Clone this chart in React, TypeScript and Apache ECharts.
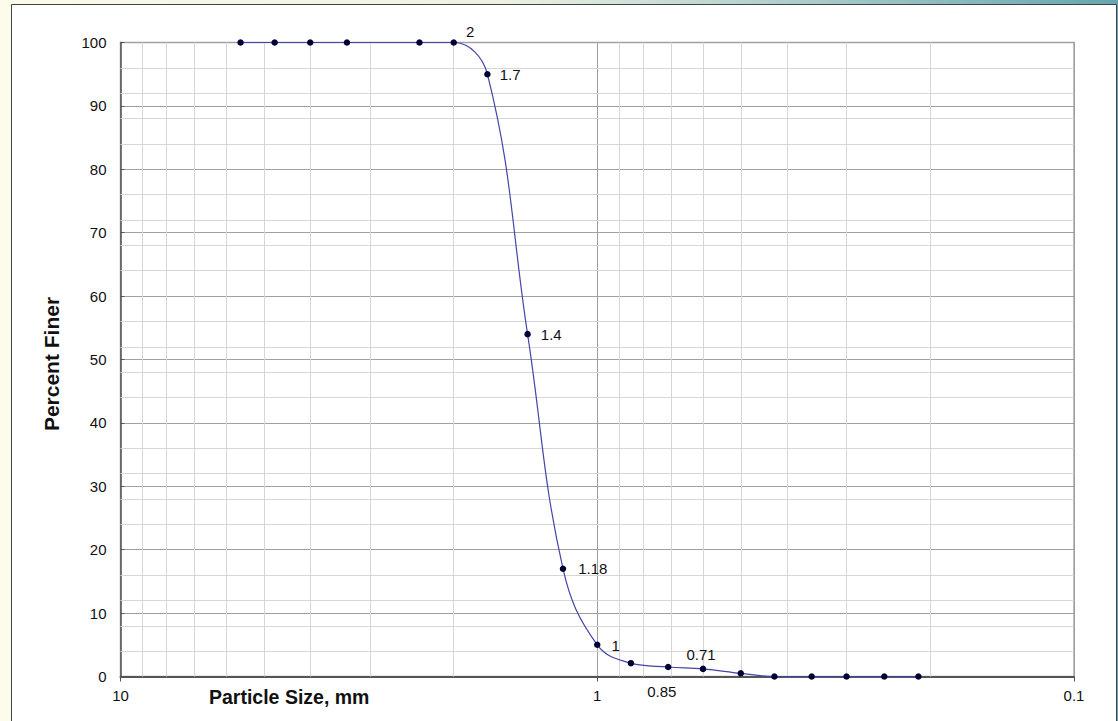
import React, { useEffect, useRef } from "react";
import * as echarts from "echarts";

// Sieve sizes (mm) and percent finer
const sizes = [5.6, 4.75, 4.0, 3.35, 2.36, 2.0, 1.7, 1.4, 1.18, 1.0, 0.85, 0.71, 0.6, 0.5, 0.425, 0.355, 0.3, 0.25, 0.212];
const percentFiner = [100, 100, 100, 100, 100, 100, 95, 54, 17, 5, 2.1, 1.5, 1.2, 0.5, 0, 0, 0, 0, 0];
const labeledSizes = [2.0, 1.7, 1.4, 1.18, 1.0, 0.85, 0.71];

// Axis ticks
const xMajorTicks = [10, 1, 0.1];
const xMinorGrid = [9, 8, 7, 6, 5, 4, 3, 2, 0.9, 0.8, 0.7, 0.6, 0.5, 0.4, 0.3, 0.2];
const yMinorGrid = [4, 8, 12, 16, 24, 28, 32, 36, 44, 48, 52, 56, 64, 68, 72, 76, 84, 88, 92, 96];

const xTitle = "Particle Size, mm";
const yTitle = "Percent Finer";

// label offsets (style)
const labelOffsets: Record<string, [number, number]> = {
  "2": [4, -11],
  "1.7": [4, 0],
  "1.4": [5, 0],
  "1.18": [7, 0],
  "1": [6, 1],
  "0.85": [8, 28],
  "0.71": [10, -12],
};

const FONT = "'Liberation Sans', Arial, sans-serif";

export default function App() {
  const ref = useRef<HTMLDivElement>(null);
  useEffect(() => {
    document.body.style.margin = "0";
    const chart = echarts.init(ref.current!, null, { renderer: "svg" });
    const data = sizes.map((s, i) => {
      const key = String(s);
      const isLabeled = labeledSizes.includes(s);
      const off = labelOffsets[key] || [0, 0];
      return {
        value: [s, percentFiner[i]],
        label: isLabeled
          ? {
              show: true,
              position: "right",
              distance: 5,
              offset: off,
              formatter: key,
              fontSize: 15,
              color: "#111",
              fontFamily: FONT,
            }
          : { show: false },
      };
    });
    const option: any = {
      animation: false,
      backgroundColor: "#fdfbea",
      graphic: [
        {
          type: "rect",
          z: -10,
          shape: { x: 0, y: 0, width: 1118, height: 5 },
          style: {
            fill: new echarts.graphic.LinearGradient(0, 0, 1, 0, [
              { offset: 0, color: "#fdfbea" },
              { offset: 0.45, color: "#eef1e2" },
              { offset: 1, color: "#66a5b0" },
            ]),
          },
        },
        {
          type: "rect",
          z: -10,
          shape: { x: 1116, y: 0, width: 2, height: 721 },
          style: { fill: "#66a5b0" },
        },
        {
          type: "rect",
          z: -9,
          shape: { x: 11.5, y: 4.5, width: 1105, height: 720 },
          style: { fill: "#ffffff", stroke: "#3c4446", lineWidth: 1 },
        },
        {
          type: "text",
          z: 10,
          x: 209,
          y: 697,
          style: {
            text: xTitle,
            font: `bold 19.5px ${FONT}`,
            fill: "#111",
            textAlign: "left",
            textVerticalAlign: "middle",
          },
        },
        {
          type: "text",
          z: 10,
          x: 51,
          y: 364,
          rotation: Math.PI / 2,
          style: {
            text: yTitle,
            font: `bold 21px ${FONT}`,
            fill: "#111",
            textAlign: "center",
            textVerticalAlign: "middle",
          },
        },
      ],
      grid: {
        left: 120.5,
        top: 42.5,
        width: 953.5,
        height: 634,
        show: true,
        backgroundColor: "#ffffff",
        borderColor: "#a6a6a6",
        borderWidth: 1.5,
      },
      xAxis: {
        type: "log",
        logBase: 10,
        min: 0.1,
        max: 10,
        inverse: true,
        axisLine: { show: true, onZero: false, lineStyle: { color: "#555", width: 2 } },
        axisTick: { show: true, inside: false, length: 5, lineStyle: { color: "#555" } },
        axisLabel: {
          margin: 11,
          fontSize: 15,
          color: "#111",
          fontFamily: FONT,
          formatter: (v: number) => {
            const m = xMajorTicks.find((t) => Math.abs(t - v) / t < 1e-6);
            return m !== undefined ? String(m) : "";
          },
        },
        splitLine: { show: true, lineStyle: { color: "#a0a0a0", width: 1 } },
      },
      yAxis: {
        type: "value",
        min: 0,
        max: 100,
        interval: 10,
        axisLine: { show: true, lineStyle: { color: "#555", width: 1.5 } },
        axisTick: { show: true, inside: true, length: 4, lineStyle: { color: "#555" } },
        axisLabel: { margin: 14, fontSize: 15, color: "#111", fontFamily: FONT },
        splitLine: { show: true, lineStyle: { color: "#a0a0a0", width: 1 } },
      },
      series: [
        {
          type: "line",
          data: [],
          z: 1,
          silent: true,
          markLine: {
            z: 1,
            silent: true,
            animation: false,
            symbol: ["none", "none"],
            label: { show: false },
            emphasis: { disabled: true },
            lineStyle: { color: "#d6d6d6", type: "solid", width: 1 },
            data: [
              ...xMinorGrid.map((v) => ({ xAxis: v })),
              ...yMinorGrid.map((v) => ({ yAxis: v })),
            ],
          },
        },
        {
          type: "line",
          z: 10,
          data,
          smooth: 0.4,
          symbol: "circle",
          symbolSize: 6.5,
          itemStyle: { color: "#000033", borderWidth: 0 },
          lineStyle: { color: "#4444aa", width: 1.2 },
          emphasis: { disabled: true },
        },
      ],
    };
    chart.setOption(option);
    return () => chart.dispose();
  }, []);
  return <div ref={ref} style={{ width: 1118, height: 721 }} />;
}
